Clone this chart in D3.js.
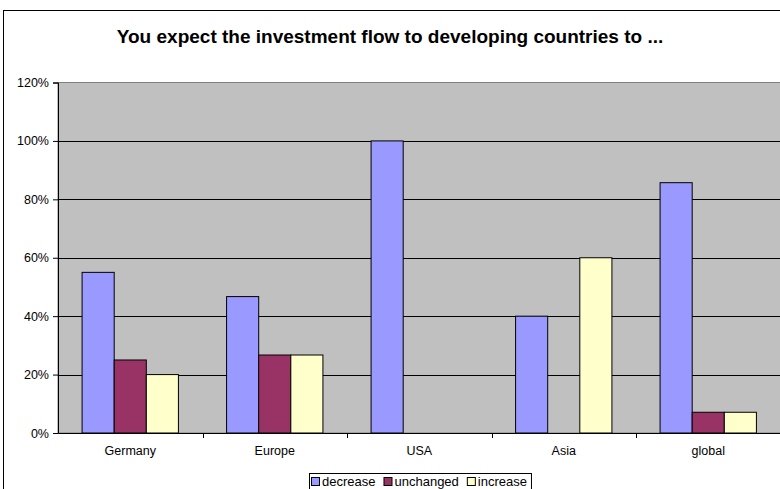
<!DOCTYPE html>
<html><head><meta charset="utf-8">
<script src="https://cdn.jsdelivr.net/npm/d3@7"></script>
<style>body{margin:0;background:#fff;overflow:hidden}svg{display:block}</style>
</head><body>
<script>
const categories = ["Germany", "Europe", "USA", "Asia", "global"];
const seriesNames = ["decrease", "unchanged", "increase"];
const decrease = [0.55, 0.467, 1.00, 0.40, 0.857];
const unchanged = [0.25, 0.267, 0, 0, 0.071];
const increase = [0.20, 0.267, 0, 0.60, 0.071];
const yTicks = [0, 0.2, 0.4, 0.6, 0.8, 1.0, 1.2];
const colors = ["#9999FF", "#993366", "#FFFFCC"];
const title = "You expect the investment flow to developing countries to ...";

const W = 780, H = 489;
const FONT = "Liberation Sans, Arial, sans-serif";
const svg = d3.select("body").append("svg").attr("width", W).attr("height", H);
svg.append("rect").attr("x", 3.5).attr("y", 10.5).attr("width", 800).attr("height", 500)
  .attr("fill", "#fff").attr("stroke", "#000").attr("stroke-width", 1);

const m = {left: 58, top: 82.5, right: 780.5, bottom: 433};
const x = d3.scaleBand().domain(categories).range([m.left, m.right]).paddingInner(0).paddingOuter(0);
const y = d3.scaleLinear().domain([0, 1.2]).range([m.bottom, m.top]);
const x1 = d3.scaleBand().domain(seriesNames).range([0, x.bandwidth()]).paddingInner(0).paddingOuter(0.75);

svg.append("text").attr("x", 390).attr("y", 43).attr("text-anchor", "middle")
  .attr("font-family", FONT).attr("font-weight", "bold")
  .attr("font-size", 19).text(title);

svg.append("rect").attr("x", m.left).attr("y", m.top).attr("width", m.right - m.left)
  .attr("height", m.bottom - m.top).attr("fill", "#C0C0C0").attr("stroke", "#808080");

svg.append("g").selectAll("line").data(yTicks.filter(t => t > 0 && t < 1.2)).join("line")
  .attr("x1", m.left).attr("x2", m.right)
  .attr("y1", d => Math.round(y(d)) + 0.5).attr("y2", d => Math.round(y(d)) + 0.5)
  .attr("stroke", "#000");

const data = [decrease, unchanged, increase];
const g = svg.append("g");
categories.forEach((c, i) => {
  seriesNames.forEach((s, j) => {
    const v = data[j][i];
    if (v <= 0) return;
    g.append("rect").attr("x", x(c) + x1(s)).attr("y", y(v))
      .attr("width", x1.bandwidth()).attr("height", y(0) - y(v))
      .attr("fill", colors[j]).attr("stroke", "#000").attr("stroke-width", 1);
  });
});

const yAxis = d3.axisLeft(y).tickValues(yTicks).tickFormat(d3.format(".0%")).tickSize(5).tickPadding(4);
const ya = svg.append("g").attr("transform", `translate(${m.left},0)`).call(yAxis);
ya.select(".domain").attr("stroke", "#000");
ya.selectAll("text").attr("font-family", FONT).attr("font-size", 12.5).attr("fill", "#000");

const xAxis = d3.axisBottom(x).tickSize(0).tickPadding(13);
const xa = svg.append("g").attr("transform", `translate(0,${m.bottom})`).call(xAxis);
xa.select(".domain").attr("stroke", "#000");
xa.selectAll("text").attr("font-family", FONT).attr("font-size", 12.5).attr("fill", "#000");
svg.append("g").selectAll("line").data(categories.slice(1)).join("line")
  .attr("x1", d => Math.round(x(d)) + 0.5).attr("x2", d => Math.round(x(d)) + 0.5)
  .attr("y1", m.bottom).attr("y2", m.bottom + 5).attr("stroke", "#000");

// legend
const lg = svg.append("g");
let cx = 311;
seriesNames.forEach((s, j) => {
  const it = lg.append("g");
  it.append("rect").attr("x", cx + 0.5).attr("y", 477.5).attr("width", 8).attr("height", 8)
    .attr("fill", colors[j]).attr("stroke", "#000");
  const t = it.append("text").attr("x", cx + 11).attr("y", 486)
    .attr("font-family", FONT).attr("font-size", 13).text(s);
  cx += 11 + t.node().getComputedTextLength() + 8;
});
const lw = cx - 311 - 2;
lg.insert("rect", ":first-child").attr("x", 309.5).attr("y", 473.5).attr("width", lw).attr("height", 16)
  .attr("fill", "#fff").attr("stroke", "#000");
</script>
</body></html>
